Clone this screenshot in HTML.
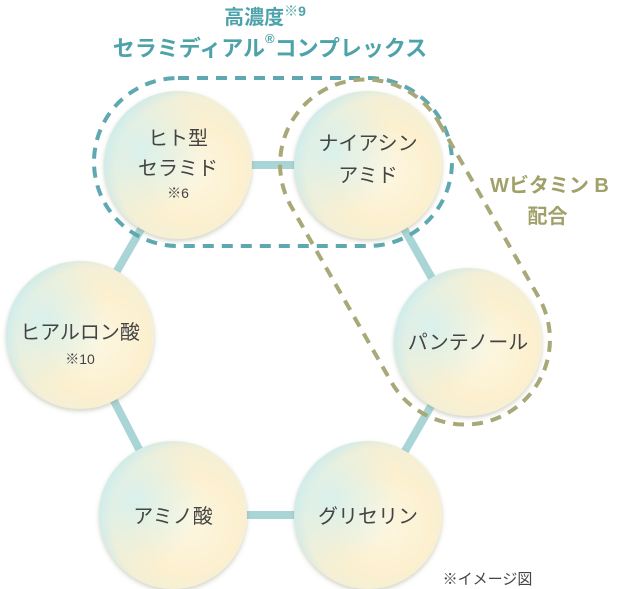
<!DOCTYPE html>
<html><head><meta charset="utf-8"><style>
html,body{margin:0;padding:0;background:#fff;}
body{width:630px;height:589px;position:relative;overflow:hidden;font-family:"Liberation Sans","Noto Sans CJK JP",sans-serif;}
.t{position:absolute;text-align:center;white-space:nowrap;}
</style></head><body>
<svg width="630" height="589" style="position:absolute;left:0;top:0">
<defs>
<radialGradient id="g" cx="0.6" cy="0.55" r="0.6">
<stop offset="0" stop-color="#fdf7e2"/>
<stop offset="0.55" stop-color="#fcf0cf"/>
<stop offset="0.85" stop-color="#f3efd6"/>
<stop offset="1" stop-color="#cfe9e6"/>
</radialGradient>
<radialGradient id="h" cx="0.25" cy="0.4" r="0.45">
<stop offset="0" stop-color="#d5f1f0" stop-opacity="0.9"/>
<stop offset="1" stop-color="#d5f1f0" stop-opacity="0"/>
</radialGradient>
<filter id="s" x="-20%" y="-20%" width="140%" height="140%"><feDropShadow dx="0" dy="2" stdDeviation="2.5" flood-color="#8a8a70" flood-opacity="0.4"/></filter>
</defs>
<g stroke="#a9d5d6" stroke-width="8">
<line x1="178" y1="165" x2="368" y2="165"/>
<line x1="368" y1="165" x2="468" y2="342"/>
<line x1="468" y1="342" x2="368" y2="515"/>
<line x1="368" y1="515" x2="173" y2="515"/>
<line x1="173" y1="515" x2="80" y2="335"/>
<line x1="80" y1="335" x2="178" y2="165"/>
</g>
<g filter="url(#s)">
<circle cx="178" cy="165" r="74" fill="url(#g)"/>
<circle cx="368" cy="165" r="74" fill="url(#g)"/>
<circle cx="468" cy="342" r="74" fill="url(#g)"/>
<circle cx="80" cy="335" r="74" fill="url(#g)"/>
<circle cx="173" cy="515" r="74" fill="url(#g)"/>
<circle cx="368" cy="515" r="74" fill="url(#g)"/>
</g>
<g>
<circle cx="178" cy="165" r="74" fill="url(#h)"/>
<circle cx="368" cy="165" r="74" fill="url(#h)"/>
<circle cx="468" cy="342" r="74" fill="url(#h)"/>
<circle cx="80" cy="335" r="74" fill="url(#h)"/>
<circle cx="173" cy="515" r="74" fill="url(#h)"/>
<circle cx="368" cy="515" r="74" fill="url(#h)"/>
</g>
<rect x="94" y="78" width="358" height="168" rx="84" fill="none" stroke="#5ea9b1" stroke-width="4" stroke-dasharray="11 8"/>
<rect x="229.2" y="167" width="371.6" height="170" rx="85" transform="rotate(60.3 415 252)" fill="none" stroke="#a8a878" stroke-width="4" stroke-dasharray="11 8"/>
</svg>
<div class="t" style="left:165px;top:1px;width:200px;color:#4ea3ab;font-size:20px;font-weight:bold">高濃度<span style="font-size:14px;vertical-align:top">※9</span></div>
<div class="t" style="left:80px;top:31px;width:380px;color:#4ea3ab;font-size:22px;font-weight:bold">セラミディアル<span style="font-size:13px;vertical-align:top">®</span>コンプレックス</div>
<div class="t" style="left:490px;top:171px;width:115px;color:#a0a06a;font-size:20px;font-weight:bold;line-height:31px">Wビタミン B<br>配合</div>
<div class="t" style="left:113px;top:124px;width:130px;color:#444;font-size:20px;line-height:30px">ヒト型<br>セラミド<br><span style="font-size:14px;position:relative;top:-7px">※6</span></div>
<div class="t" style="left:303px;top:128px;width:130px;color:#444;font-size:20px;line-height:32px">ナイアシン<br>アミド</div>
<div class="t" style="left:393px;top:326px;width:150px;color:#444;font-size:20px">パンテノール</div>
<div class="t" style="left:0px;top:318px;width:160px;color:#444;font-size:20px;line-height:30px">ヒアルロン酸<br><span style="font-size:14px;position:relative;top:-5px">※10</span></div>
<div class="t" style="left:108px;top:500px;width:130px;color:#444;font-size:20px">アミノ酸</div>
<div class="t" style="left:303px;top:500px;width:130px;color:#444;font-size:20px">グリセリン</div>
<div class="t" style="left:425px;top:568px;width:125px;color:#444;font-size:15px">※イメージ図</div>
</body></html>
